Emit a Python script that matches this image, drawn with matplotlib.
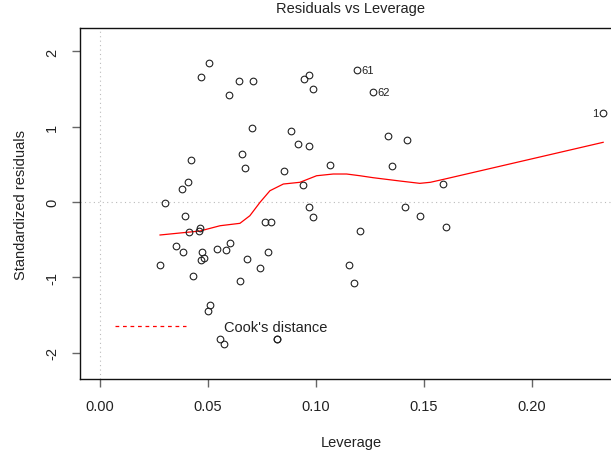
import numpy as np
import matplotlib
matplotlib.use("Agg")
import matplotlib.pyplot as plt
from matplotlib.lines import Line2D

plt.rcParams.update({"font.family": ["Liberation Sans", "DejaVu Sans"],
                     "font.size": 10.5, "text.color": "#222222",
                     "axes.labelcolor": "#222222"})

# leverage / standardized residual pairs
leverage = [0.0466, 0.0505, 0.0642, 0.0710, 0.0599, 0.0944, 0.0966, 0.0988,
            0.0702, 0.0884, 0.0918, 0.0969, 0.0420, 0.0659, 0.0673, 0.0850,
            0.1066, 0.0407, 0.0380, 0.0941, 0.0302, 0.0395, 0.0969, 0.0985,
            0.1191, 0.1263, 0.2330, 0.1333, 0.1423, 0.1353, 0.1589, 0.1412,
            0.1480, 0.0764, 0.0793, 0.0413, 0.0464, 0.0460, 0.0353, 0.0384,
            0.0474, 0.0468, 0.0483, 0.0542, 0.0585, 0.0600, 0.0682, 0.0742,
            0.0779, 0.0279, 0.0431, 0.0647, 0.0509, 0.0500, 0.0556, 0.0575,
            0.0818, 0.0818, 0.1151, 0.1600, 0.1204, 0.1177]
std_resid = [1.664, 1.842, 1.603, 1.603, 1.417, 1.629, 1.691, 1.501,
             0.983, 0.943, 0.770, 0.748, 0.558, 0.637, 0.448, 0.408,
             0.487, 0.262, 0.173, 0.226, -0.009, -0.186, -0.070, -0.195,
             1.749, 1.465, 1.178, 0.880, 0.819, 0.474, 0.239, -0.062,
             -0.182, -0.270, -0.270, -0.398, -0.345, -0.385, -0.580, -0.668,
             -0.668, -0.770, -0.744, -0.620, -0.641, -0.544, -0.757, -0.876,
             -0.668, -0.841, -0.979, -1.053, -1.364, -1.452, -1.819, -1.886,
             -1.819, -1.819, -0.841, -0.336, -0.385, -1.080]

# smoother (red line)
smooth_x = [0.0278, 0.0463, 0.0556, 0.0648, 0.0694, 0.0741, 0.0787, 0.0849,
            0.0926, 0.1003, 0.1080, 0.1142, 0.1204, 0.1265, 0.1389, 0.1481,
            0.1530, 0.1589, 0.2330]
smooth_y = [-0.438, -0.385, -0.315, -0.283, -0.182, -0.004, 0.150, 0.239,
            0.262, 0.349, 0.372, 0.372, 0.349, 0.323, 0.279, 0.248,
            0.262, 0.300, 0.793]

# labelled observations: (id, index into the arrays above, side)
labels = [("61", 24, "right"), ("62", 25, "right"), ("1", 26, "left")]

xticks = [0.00, 0.05, 0.10, 0.15, 0.20]
yticks = [-2, -1, 0, 1, 2]

fig = plt.figure(figsize=(6.11, 4.52), dpi=100)
ax = fig.add_axes([0.1308, 0.1586, 0.8871, 0.7765])

ax.axhline(0, color="#bbbbbb", lw=0.8, ls=(0, (1, 3)), zorder=1)
ax.axvline(0, color="#bbbbbb", lw=0.8, ls=(0, (1, 3)), zorder=1)

ax.plot(leverage, std_resid, "o", ms=4.8, mfc="none", mec="#222222", mew=0.8, zorder=3)
ax.plot(smooth_x, smooth_y, color="#ff0000", lw=0.9, zorder=2)

for lab, i, side in labels:
    dx = 3.2 if side == "right" else -3.6
    ax.annotate(lab, (leverage[i], std_resid[i]), xytext=(dx, 0),
                textcoords="offset points", ha="left" if side == "right" else "right",
                va="center", fontsize=8, color="#222222")

ax.set_xlim(-0.0093, 0.2417)
ax.set_ylim(-2.355, 2.307)
ax.set_xticks(xticks)
ax.set_xticklabels([f"{t:.2f}" for t in xticks])
ax.set_yticks(yticks)
ax.set_yticklabels([str(t) for t in yticks], rotation=90, va="center")

ax.tick_params(direction="out", length=6, width=1, color="#666666",
               labelcolor="#222222", labelsize=10.5)
ax.tick_params(axis="x", pad=8)
ax.tick_params(axis="y", pad=9)
for s in ax.spines.values():
    s.set_color("#111111"); s.set_linewidth(1)

ax.set_title("Residuals vs Leverage", fontsize=10.5, pad=11.5, color="#222222")
ax.set_xlabel("Leverage", labelpad=16)
ax.set_ylabel("Standardized residuals", labelpad=12)

h = Line2D([], [], color="#ff0000", lw=0.9, ls=(0, (3, 3)))
ax.legend([h], ["Cook's distance"], loc="center left",
          bbox_to_anchor=(0.0647, 0.148), frameon=False, borderpad=0,
          borderaxespad=0, handlelength=4.9, handletextpad=2.6, fontsize=10.5)

fig.savefig("out.png", dpi=100)
